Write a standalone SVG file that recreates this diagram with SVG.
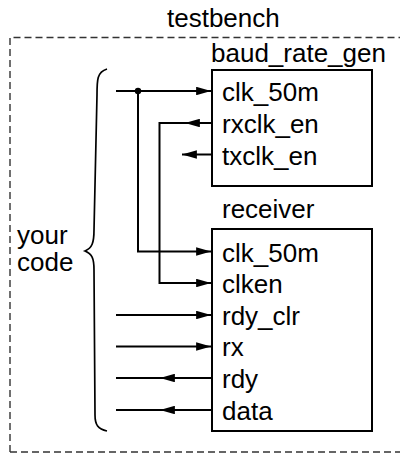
<svg xmlns="http://www.w3.org/2000/svg" width="400" height="453" viewBox="0 0 400 453">
<style>
text{font-family:"Liberation Sans",Arial,sans-serif;font-size:26px;fill:#000}
.box{fill:#fff;stroke:#000;stroke-width:2}
.w{fill:none;stroke:#000;stroke-width:2}
.brace{fill:none;stroke:#000;stroke-width:1.7}
.dash{fill:none;stroke:#333;stroke-width:1.4;stroke-dasharray:7 4}
</style>
<defs>
<marker id="ah" viewBox="0 0 14 8" refX="14" refY="4" markerWidth="15" markerHeight="8.5" markerUnits="userSpaceOnUse" orient="auto">
<path d="M0,0 L14,4 L0,8 Z" fill="#000"/>
</marker>
</defs>
<g id="testbench">
<path class="dash" d="M10,452 V37.5 H400 M10,452 H400"/>
<text x="167" y="27">testbench</text>
</g>
<g id="your_code">
<path class="brace" d="M107,69 C97,72 97,80 97,95 L94,230 C94,243 92,248 85,251 C92,254 94,258 94,270 L95,415 C95,425 98,429 107,431"/>
<text x="17" y="244">your</text>
<text x="17" y="271">code</text>
</g>
<g id="baud_rate_gen">
<rect class="box" x="212" y="70" width="160" height="116"/>
<text x="211" y="62">baud_rate_gen</text>
<text x="222" y="101">clk_50m</text>
<text x="222" y="133">rxclk_en</text>
<text x="222" y="165">txclk_en</text>
</g>
<g id="receiver">
<rect class="box" x="212" y="229" width="160" height="202"/>
<text x="222" y="218">receiver</text>
<text x="222" y="262">clk_50m</text>
<text x="222" y="293">clken</text>
<text x="222" y="325">rdy_clr</text>
<text x="222" y="356">rx</text>
<text x="222" y="388">rdy</text>
<text x="222" y="420">data</text>
</g>
<g id="connectors">
<path class="w" d="M116,91 H211" marker-end="url(#ah)"/>
<circle cx="138" cy="91" r="3.2" fill="#000"/>
<path class="w" d="M138,91 V251.5 H211" marker-end="url(#ah)"/>
<path class="w" d="M211,123 H185" marker-end="url(#ah)"/>
<path class="w" d="M187,123 H159.5 V283 H211" marker-end="url(#ah)"/>
<path class="w" d="M211,154.5 H182" marker-end="url(#ah)"/>
<path class="w" d="M116,315 H211" marker-end="url(#ah)"/>
<path class="w" d="M116,346.5 H211" marker-end="url(#ah)"/>
<path class="w" d="M211,378 H160" marker-end="url(#ah)"/>
<path class="w" d="M162,378 H116"/>
<path class="w" d="M211,410 H160" marker-end="url(#ah)"/>
<path class="w" d="M162,410 H116"/>
</g>
</svg>
